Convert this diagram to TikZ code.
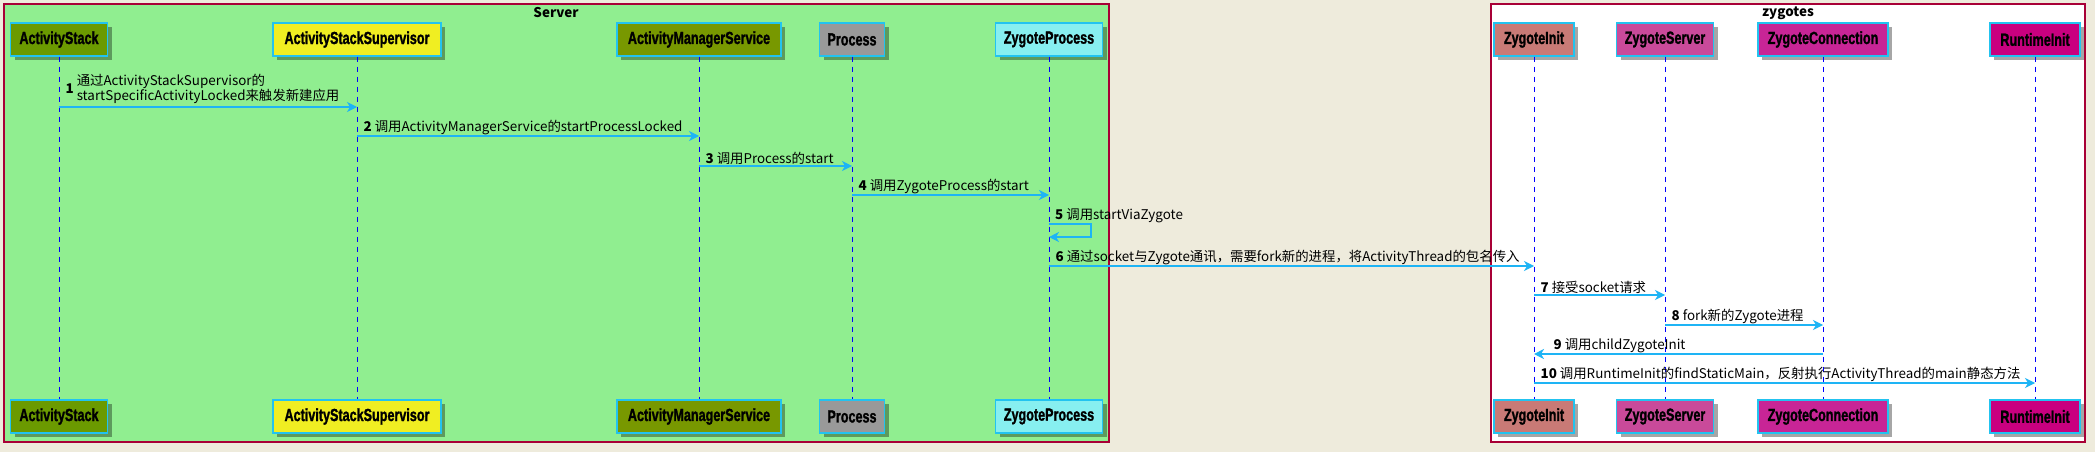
\documentclass[tikz,border=0pt]{standalone}
\usepackage{fontspec}
\usepackage{graphicx}
\usetikzlibrary{arrows.meta,shadows}
\setmainfont{Noto Sans CJK SC}
\newfontfamily\partfont[FakeBold=1.6]{Liberation Sans Bold}
\newcommand{\pname}[1]{\scalebox{0.72}[1]{\partfont\fontsize{17.5}{19}\selectfont #1}}

\definecolor{umlbg}{HTML}{EEEBDC}
\definecolor{umlframe}{HTML}{A80036}
\definecolor{servergreen}{HTML}{90EE90}
\definecolor{umlarrow}{HTML}{1EB4F5}
\definecolor{umlborder}{HTML}{22C3F0}
\definecolor{asgreen}{HTML}{6B9A00}
\definecolor{assyellow}{HTML}{F0EE22}
\definecolor{amsolive}{HTML}{789800}
\definecolor{procgray}{HTML}{999999}
\definecolor{zpcyan}{HTML}{87EFF0}
\definecolor{zirose}{HTML}{C97A76}
\definecolor{zsmag}{HTML}{C94A9A}
\definecolor{zcmag}{HTML}{C82596}
\definecolor{rimag}{HTML}{C9007F}

\begin{document}
\begin{tikzpicture}[x=1pt,y=-1pt,
	part/.style={draw=umlborder,line width=1.3pt,minimum height=33pt,inner sep=0pt,
		drop shadow={shadow xshift=4pt,shadow yshift=-4pt,fill=black,opacity=.35}},
	lifeline/.style={blue,line width=1pt,dash pattern=on 5pt off 5pt},
	msg/.style={umlarrow,line width=1.2pt,-{Stealth[length=10pt,width=10pt,inset=3pt]}},
	lbl/.style={black,font=\fontsize{13.4}{15}\selectfont,inner sep=1pt,anchor=south west,xshift=5pt},
	frametitle/.style={font=\fontsize{13.4}{15}\selectfont\bfseries,inner sep=0pt}]
	\useasboundingbox (0,0) rectangle (2095,452);
	\fill[umlbg] (0,0) rectangle (2095,452);
	
	% boxes
	\draw[umlframe,line width=1.5pt,fill=servergreen] (4,4) rectangle (1109,442);
	\draw[umlframe,line width=1.5pt,fill=white] (1491,4) rectangle (2085,442);
	\node[frametitle] (srvtitle) at (556,13) {Server};
	\node[frametitle] (zyg) at (1788,13) {zygotes};
	
	\foreach \id/\xpos/\boxw/\col/\txt in {
		as/59/97/asgreen/ActivityStack,
		ass/357/168/assyellow/ActivityStackSupervisor,
		ams/699/164/amsolive/ActivityManagerService,
		proc/852/65/procgray/Process,
		zp/1049/107/zpcyan/ZygoteProcess,
		zi/1534/80/zirose/ZygoteInit,
		zs/1665/97/zsmag/ZygoteServer,
		zc/1823/130/zcmag/ZygoteConnection,
		ri/2035/90/rimag/RuntimeInit}{
		\node[part,fill=\col,minimum width=\boxw pt] (\id) at (\xpos,39.5) {\pname{\txt}};
		\node[part,fill=\col,minimum width=\boxw pt] (\id-end) at (\xpos,416.5) {\pname{\txt}};
		\draw[lifeline] (\id) -- (\id-end);
	}
	
	\foreach \n/\ypos in {1/107,2/136,3/166,4/195,5/224,5b/237,6/266,7/295,8/325,9/354,10/383}
	\coordinate (r\n) at (0,\ypos);
	
	\draw[msg] (as |- r1) -- node[lbl,pos=0] (l1) {\textbf{1}\ \begin{tabular}{@{}l@{}}通过ActivityStackSupervisor的\\startSpecificActivityLocked来触发新建应用\end{tabular}} (ass |- r1);
	\foreach \n/\a/\b/\txt in {
		2/ass/ams/调用ActivityManagerService的startProcessLocked,
		3/ams/proc/调用Process的start,
		4/proc/zp/调用ZygoteProcess的start,
		6/zp/zi/通过socket与Zygote通讯，需要fork新的进程，将ActivityThread的包名传入,
		7/zi/zs/接受socket请求,
		8/zs/zc/fork新的Zygote进程,
		10/zi/ri/调用RuntimeInit的findStaticMain，反射执行ActivityThread的main静态方法}
	\draw[msg] (\a |- r\n) -- node[lbl,pos=0] (l\n) {\textbf{\n}\ \txt} (\b |- r\n);
	
	\draw[msg] (zp |- r5) -- ++(42,0) |- (zp |- r5b);
	\node[lbl] (l5) at (zp |- r5) {\textbf{5}\ 调用startViaZygote};
	\draw[msg] (zc |- r9) -- node[lbl,pos=1,xshift=13pt] (l9) {\textbf{9}\ 调用childZygoteInit} (zi |- r9);
\end{tikzpicture}
\end{document}
